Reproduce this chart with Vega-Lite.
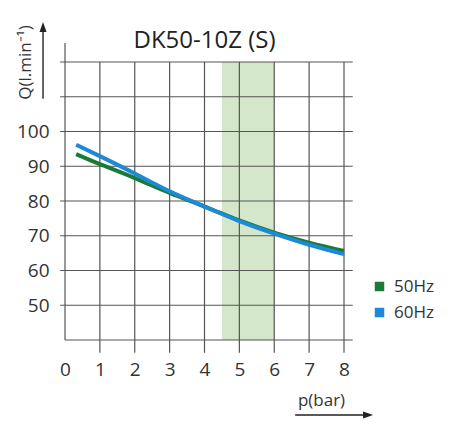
{
  "$schema": "https://vega.github.io/schema/vega-lite/v6.json",
  "width": 279,
  "height": 278,
  "autosize": {"type": "none"},
  "padding": {"left": 65, "top": 62, "right": 106, "bottom": 107},
  "config": {
    "view": {"stroke": null},
    "font": "Open Sans",
    "axis": {"labelOverlap": false, "labelFlush": false}
  },
  "datasets": {
    "curves": [
      {"x": 0.32, "y": 93.5, "series": "50Hz"},
      {"x": 1, "y": 90.6, "series": "50Hz"},
      {"x": 2, "y": 86.6, "series": "50Hz"},
      {"x": 3, "y": 82.3, "series": "50Hz"},
      {"x": 4, "y": 78.4, "series": "50Hz"},
      {"x": 5, "y": 74.4, "series": "50Hz"},
      {"x": 6, "y": 70.9, "series": "50Hz"},
      {"x": 7, "y": 68.0, "series": "50Hz"},
      {"x": 8, "y": 65.6, "series": "50Hz"},
      {"x": 0.32, "y": 96.2, "series": "60Hz"},
      {"x": 1, "y": 92.9, "series": "60Hz"},
      {"x": 2, "y": 87.9, "series": "60Hz"},
      {"x": 3, "y": 82.8, "series": "60Hz"},
      {"x": 4, "y": 78.4, "series": "60Hz"},
      {"x": 5, "y": 74.2, "series": "60Hz"},
      {"x": 6, "y": 70.6, "series": "60Hz"},
      {"x": 7, "y": 67.4, "series": "60Hz"},
      {"x": 8, "y": 64.7, "series": "60Hz"}
    ],
    "grid": [
      {"x": 0, "xe": 8.25, "y": 40, "ye": 40},
      {"x": -0.14, "xe": 8.25, "y": 50, "ye": 50},
      {"x": -0.14, "xe": 8.25, "y": 60, "ye": 60},
      {"x": -0.14, "xe": 8.25, "y": 70, "ye": 70},
      {"x": -0.14, "xe": 8.25, "y": 80, "ye": 80},
      {"x": -0.14, "xe": 8.25, "y": 90, "ye": 90},
      {"x": -0.14, "xe": 8.25, "y": 100, "ye": 100},
      {"x": -0.14, "xe": 8.25, "y": 110, "ye": 110},
      {"x": -0.14, "xe": 8.25, "y": 120, "ye": 120},
      {"x": 0, "xe": 0, "y": 40, "ye": 125.5},
      {"x": 1, "xe": 1, "y": 36.3, "ye": 120},
      {"x": 2, "xe": 2, "y": 36.3, "ye": 120},
      {"x": 3, "xe": 3, "y": 36.3, "ye": 120},
      {"x": 4, "xe": 4, "y": 36.3, "ye": 120},
      {"x": 5, "xe": 5, "y": 36.3, "ye": 120},
      {"x": 6, "xe": 6, "y": 36.3, "ye": 120},
      {"x": 7, "xe": 7, "y": 36.3, "ye": 120},
      {"x": 8, "xe": 8, "y": 36.3, "ye": 120}
    ],
    "band": [{"x": 4.5, "xe": 6, "y": 40, "ye": 120}],
    "arrows": [
      {"x": -0.63, "xe": -0.63, "y": 109.4, "ye": 129.2},
      {"x": 6.6, "xe": 8.6, "y": 18.4, "ye": 18.4}
    ],
    "heads": [
      {"x": -0.63, "y": 130.1, "dir": "up"},
      {"x": 8.69, "y": 18.4, "dir": "right"}
    ],
    "title": [{"x": 4, "y": 125.9, "text": "DK50-10Z (S)"}]
  },
  "encoding": {
    "x": {"field": "x", "type": "quantitative", "scale": {"domain": [0, 8], "nice": false, "zero": false},
      "axis": {"values": [0, 1, 2, 3, 4, 5, 6, 7, 8], "grid": false, "ticks": false, "domain": false,
        "labelOverlap": false, "labelFlush": false,
        "labelFontSize": 19, "labelColor": "#333", "labelPadding": 20,
        "title": "p(bar)", "titleFontSize": 17, "titleFontWeight": "normal", "titleColor": "#333",
        "titleX": 256, "titleY": 60, "titleAlign": "center", "titleBaseline": "middle", "titleAngle": 0}},
    "y": {"field": "y", "type": "quantitative", "scale": {"domain": [40, 120], "nice": false, "zero": false},
      "axis": {"values": [50, 60, 70, 80, 90, 100], "grid": false, "ticks": false, "domain": false,
        "labelOverlap": false, "labelFlush": false,
        "labelFontSize": 19, "labelColor": "#333", "labelPadding": 16,
        "title": "Q(l.min⁻¹)", "titleFontSize": 17, "titleFontWeight": "normal", "titleColor": "#333",
        "titleX": -40, "titleY": 0, "titleAngle": 270, "titleAlign": "center", "titleBaseline": "middle"}}
  },
  "layer": [
    {
      "data": {"name": "band"},
      "mark": {"type": "rect", "color": "#d5e7ca"},
      "encoding": {"x2": {"field": "xe"}, "y2": {"field": "ye"}}
    },
    {
      "data": {"name": "grid"},
      "mark": {"type": "rule", "color": "#555", "strokeWidth": 1.2},
      "encoding": {"x2": {"field": "xe"}, "y2": {"field": "ye"}}
    },
    {
      "data": {"name": "curves"},
      "mark": {"type": "line", "interpolate": "natural", "strokeWidth": 4},
      "encoding": {
        "color": {"field": "series", "type": "nominal",
          "scale": {"domain": ["50Hz", "60Hz"], "range": ["#1b7a36", "#1c8ad6"]},
          "legend": {"title": null, "orient": "none", "legendX": 306, "legendY": 216,
            "symbolType": "square", "symbolSize": 90, "symbolStrokeWidth": 0,
            "labelFontSize": 17, "labelColor": "#333", "labelOffset": 6, "rowPadding": 8,
            "encode": {"symbols": {"update": {"fill": {"scale": "color", "field": "value"}}}}}}
      }
    },
    {
      "data": {"name": "arrows"},
      "mark": {"type": "rule", "color": "#222", "strokeWidth": 1.4},
      "encoding": {"x2": {"field": "xe"}, "y2": {"field": "ye"}}
    },
    {
      "data": {"name": "heads"},
      "mark": {"type": "point", "filled": true, "color": "#222", "size": 100, "opacity": 1},
      "encoding": {
        "shape": {"field": "dir", "type": "nominal", "legend": null,
          "scale": {"domain": ["up", "right"], "range": ["M0,-1L0.7,1L-0.7,1Z", "M1,0L-1,0.7L-1,-0.7Z"]}}
      }
    },
    {
      "data": {"name": "title"},
      "mark": {"type": "text", "fontSize": 24, "color": "#222", "baseline": "middle", "align": "center"},
      "encoding": {"text": {"field": "text"}}
    }
  ]
}
